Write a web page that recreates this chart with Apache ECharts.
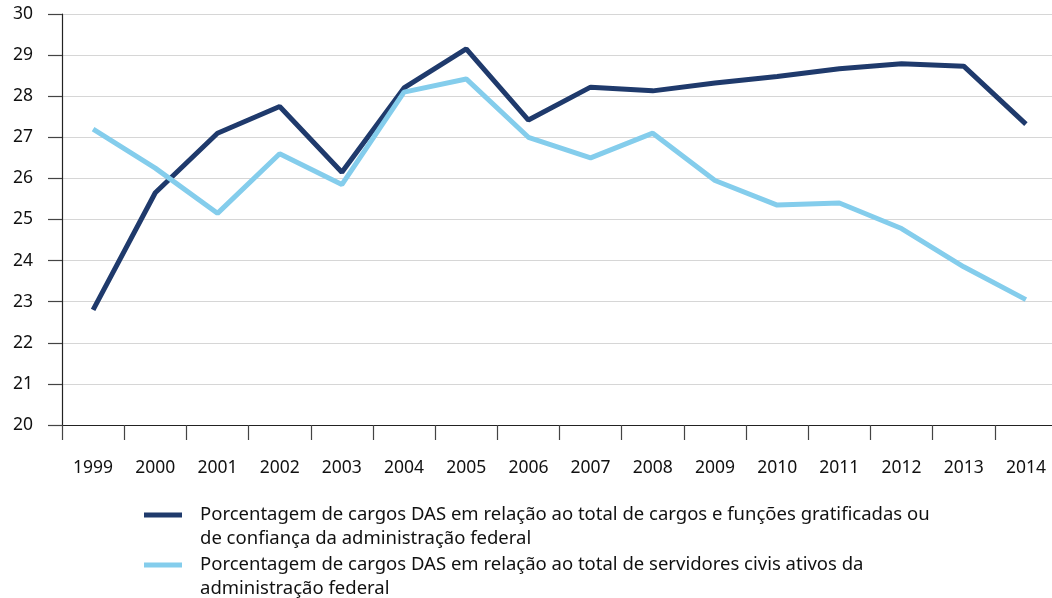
<!DOCTYPE html>
<html><head><meta charset="utf-8">
<script src="https://cdn.jsdelivr.net/npm/echarts@6/dist/echarts.min.js"></script>
<style>html,body{margin:0;padding:0;background:#fff}#c{width:1052px;height:598px}</style>
</head><body><div id="c"></div>
<script>
const years = ['1999','2000','2001','2002','2003','2004','2005','2006','2007','2008','2009','2010','2011','2012','2013','2014'];
const seriesNameA = 'Porcentagem de cargos DAS em relação ao total de cargos e funções gratificadas ou\nde confiança da administração federal';
const seriesNameB = 'Porcentagem de cargos DAS em relação ao total de servidores civis ativos da\nadministração federal';
const valuesA = [22.8, 25.65, 27.1, 27.75, 26.15, 28.2, 29.15, 27.42, 28.22, 28.13, 28.32, 28.48, 28.67, 28.79, 28.73, 27.32];
const valuesB = [27.2, 26.25, 25.15, 26.6, 25.85, 28.1, 28.42, 27.0, 26.5, 27.1, 25.95, 25.35, 25.4, 24.78, 23.85, 23.05];
const yTicks = {min: 20, max: 30, interval: 1};

const font = 'Noto Sans';
const chart = echarts.init(document.getElementById('c'));
const legendText = {fontFamily: font, fontSize: 18.5, color: '#111', lineHeight: 24, padding: [0, 0, 0, 13]};
const legendFmt = name => ' \n' + name;
chart.setOption({
  animation: false,
  textStyle: {fontFamily: font},
  grid: {left: 62, top: 14, width: 995, height: 411, containLabel: false, outerBoundsMode: 'none'},
  legend: [
    {data: [seriesNameA], left: 144, top: 479, padding: 0, itemWidth: 38, itemHeight: 5, icon: 'rect', textStyle: legendText, formatter: legendFmt},
    {data: [seriesNameB], left: 144, top: 529, padding: 0, itemWidth: 38, itemHeight: 5, icon: 'rect', textStyle: legendText, formatter: legendFmt}
  ],
  xAxis: {
    type: 'category', data: years, boundaryGap: true,
    axisLine: {lineStyle: {color: '#222', width: 1.2}},
    axisTick: {show: true, length: 15, lineStyle: {color: '#444', width: 1.2}},
    axisLabel: {margin: 34, fontFamily: font, fontSize: 17.5, color: '#111'}
  },
  yAxis: {
    type: 'value', min: yTicks.min, max: yTicks.max, interval: yTicks.interval,
    axisLine: {show: true, lineStyle: {color: '#222', width: 1.2}},
    axisTick: {show: true, length: 14, lineStyle: {color: '#444', width: 1.2}},
    axisLabel: {margin: 29, fontFamily: font, fontSize: 17.5, color: '#111'},
    splitLine: {lineStyle: {color: '#d6d6d6', width: 1.2}}
  },
  series: [
    {name: seriesNameA, type: 'line', data: valuesA, symbol: 'none', lineStyle: {color: '#1f3a6c', width: 5}, itemStyle: {color: '#1f3a6c'}},
    {name: seriesNameB, type: 'line', data: valuesB, symbol: 'none', lineStyle: {color: '#84cdec', width: 5}, itemStyle: {color: '#84cdec'}}
  ]
});
</script></body></html>
